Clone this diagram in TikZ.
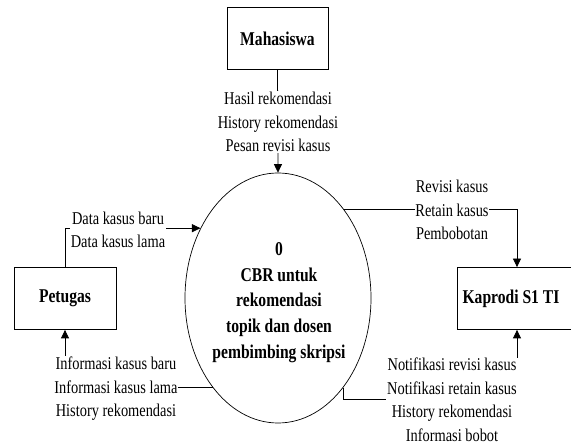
\documentclass[tikz,border=0pt]{standalone}
\usepackage{fontspec}
\setmainfont[FakeStretch=0.8]{Liberation Serif}
\usetikzlibrary{arrows.meta,shapes.geometric,calc}
\begin{document}
\begin{tikzpicture}[x=1pt,y=-1pt,
  ent/.style={draw, line width=0.8pt, minimum height=62pt, inner sep=0pt, font=\fontsize{19.5}{24}\selectfont\bfseries},
  proc/.style={draw, ellipse, line width=0.7pt, minimum width=186pt, minimum height=250pt, inner sep=0pt},
  proctext/.style={inner sep=0pt, align=center, font=\fontsize{19.5}{25.8}\selectfont\bfseries},
  flow/.style={line width=0.8pt, -{Triangle[length=8.5pt,width=8pt]}},
  lbl/.style={fill=white, inner sep=0.8pt, align=center, font=\fontsize{18}{23.5}\selectfont}]
\useasboundingbox (0,0) rectangle (571,446);
\node[ent, minimum width=101pt] (mah) at (277.5,38.5) {Mahasiswa};
\node[ent, minimum width=102pt] (pet) at (65,298.5) {Petugas};
\node[ent, minimum width=120pt] (kap) at (517,298.5) {};
\node[inner sep=0pt, font=\fontsize{19.5}{24}\selectfont\bfseries] (kapt) at (511,298.5) {Kaprodi S1 TI};
\node[proc] (proc) at (278,298) {};
\node[proctext] (proct) at (279,302.5) {0\\CBR untuk\\rekomendasi\\topik dan dosen\\pembimbing skripsi};
% connectors
\draw[flow] (mah.south) -- (proc.north);
\draw[flow] (pet.north) |- (proc.138);
\draw[flow] (proc.-126) -| (pet.south);
\draw[flow] (proc.53) -| (kap.north);
\draw[flow] (proc.-54) |- ($(kap.south)+(0,70)$) -- (kap.south);
% labels
\node[lbl] (l1) at (278,122) {Hasil rekomendasi\\History rekomendasi\\Pesan revisi kasus};
\node[lbl] (l2) at (118,230) {Data kasus baru\\Data kasus lama};
\node[lbl] (l3) at (116,389) {Informasi kasus baru\\Informasi kasus lama\\History rekomendasi};
\node[lbl] (l4) at (452,210) {Revisi kasus\\Retain kasus\\Pembobotan};
\node[lbl] (l5) at (452,400) {Notifikasi revisi kasus\\Notifikasi retain kasus\\History rekomendasi\\Informasi bobot};
\end{tikzpicture}
\end{document}
